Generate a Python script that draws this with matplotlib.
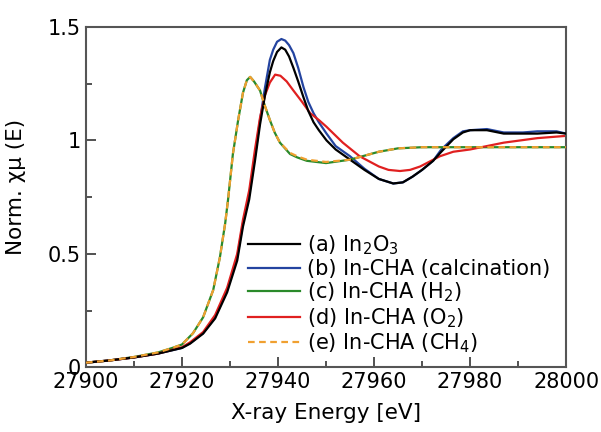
import matplotlib
matplotlib.use('Agg')
import matplotlib.pyplot as plt
from matplotlib.ticker import MultipleLocator, FormatStrFormatter

plt.rcParams['font.family'] = ['DejaVu Sans']
plt.rcParams['mathtext.fontset'] = 'dejavusans'

# energy grid (eV) and normalised absorption
e_a = [27900, 27905, 27910, 27915, 27918, 27920, 27921.7, 27924.4, 27926.9, 27929.4,
       27931.5, 27932.7, 27934, 27935.2, 27936.25, 27937.3, 27938.3, 27939, 27939.8,
       27940.7, 27941.5, 27942.3, 27943.2, 27944.2, 27945.3, 27946.3, 27947.4, 27948.5,
       27950.1, 27952, 27955, 27958, 27961, 27964, 27966, 27968, 27970, 27972.3,
       27974, 27976.5, 27978.5, 27980, 27983.5, 27987, 27991, 27994, 27998, 28000]
mu_in2o3 = [0.02, 0.03, 0.043, 0.06, 0.075, 0.085, 0.104, 0.148, 0.215, 0.33,
            0.47, 0.62, 0.74, 0.91, 1.07, 1.20, 1.30, 1.35, 1.39,
            1.41, 1.40, 1.37, 1.32, 1.26, 1.19, 1.13, 1.08, 1.045,
            1.0, 0.96, 0.915, 0.87, 0.83, 0.81, 0.815, 0.84, 0.87, 0.91,
            0.95, 1.005, 1.035, 1.045, 1.045, 1.03, 1.03, 1.03, 1.035, 1.03]
mu_calc = [0.02, 0.03, 0.043, 0.06, 0.075, 0.085, 0.106, 0.15, 0.22, 0.34,
           0.485, 0.635, 0.76, 0.93, 1.09, 1.235, 1.355, 1.40, 1.435,
           1.447, 1.44, 1.42, 1.385, 1.32, 1.235, 1.17, 1.12, 1.08,
           1.03, 0.975, 0.93, 0.875, 0.83, 0.81, 0.815, 0.84, 0.87, 0.91,
           0.96, 1.01, 1.04, 1.045, 1.05, 1.035, 1.035, 1.04, 1.04, 1.03]

e_c = [27900, 27905, 27910, 27915, 27918, 27920, 27922.3, 27924.4, 27926.5, 27927.9,
       27929, 27929.6, 27930.6, 27931.7, 27932.7, 27933.5, 27934.2, 27935, 27936.25,
       27937.3, 27938.3, 27939.3, 27940.4, 27942.5, 27944, 27946, 27950, 27955, 27961,
       27965, 27970, 27980, 27990, 28000]
mu_h2 = [0.02, 0.03, 0.045, 0.065, 0.085, 0.10, 0.15, 0.22, 0.34, 0.485,
         0.635, 0.74, 0.94, 1.09, 1.21, 1.265, 1.28, 1.26, 1.22,
         1.15, 1.09, 1.035, 0.99, 0.94, 0.925, 0.91, 0.90, 0.915, 0.95,
         0.965, 0.97, 0.97, 0.97, 0.97]
mu_ch4 = [0.02, 0.03, 0.045, 0.065, 0.085, 0.10, 0.15, 0.22, 0.34, 0.485,
          0.635, 0.74, 0.94, 1.09, 1.21, 1.265, 1.28, 1.26, 1.22,
          1.15, 1.09, 1.035, 0.99, 0.945, 0.93, 0.915, 0.905, 0.915, 0.95,
          0.965, 0.97, 0.97, 0.97, 0.97]

e_d = [27900, 27905, 27910, 27915, 27918, 27920, 27921.7, 27924.4, 27926.9, 27929.4,
       27931.5, 27932.7, 27934, 27935.2, 27936.25, 27937.3, 27938.3, 27939.4, 27940.5,
       27941.8, 27943.2, 27945, 27946.7, 27948.5, 27950.1, 27953.5, 27957, 27961, 27963,
       27965.4, 27967.5, 27969.6, 27973.7, 27976.5, 27980, 27987, 27994, 28000]
mu_o2 = [0.02, 0.03, 0.043, 0.06, 0.077, 0.088, 0.11, 0.155, 0.23, 0.35,
         0.50, 0.65, 0.78, 0.96, 1.10, 1.20, 1.255, 1.29, 1.285,
         1.26, 1.22, 1.17, 1.12, 1.09, 1.06, 0.99, 0.93, 0.885, 0.87,
         0.865, 0.87, 0.885, 0.93, 0.95, 0.96, 0.99, 1.01, 1.02]

labels = [r'(a) In$_2$O$_3$', '(b) In-CHA (calcination)', r'(c) In-CHA (H$_2$)',
          r'(d) In-CHA (O$_2$)', r'(e) In-CHA (CH$_4$)']

fig = plt.figure(figsize=(6.01, 4.32), dpi=100)
ax = fig.add_axes([0.143, 0.150, 0.799, 0.7875])

ax.plot(e_a, mu_in2o3, color='black', lw=1.6, label=labels[0], zorder=3)
ax.plot(e_a, mu_calc, color='#2444a0', lw=1.6, label=labels[1], zorder=2)
ax.plot(e_c, mu_h2, color='#2a8a2a', lw=1.6, label=labels[2], zorder=2)
ax.plot(e_d, mu_o2, color='#e02020', lw=1.6, label=labels[3], zorder=2)
ax.plot(e_c, mu_ch4, color='#f0a030', lw=1.6, ls=(0, (3, 2)), label=labels[4], zorder=4)

ax.set_xlim(27900, 28000)
ax.set_ylim(0, 1.5)
ax.xaxis.set_major_locator(MultipleLocator(20))
ax.xaxis.set_minor_locator(MultipleLocator(10))
ax.yaxis.set_major_locator(MultipleLocator(0.5))
ax.yaxis.set_minor_locator(MultipleLocator(0.25))
ax.yaxis.set_major_formatter(FormatStrFormatter('%g'))
ax.tick_params(which='both', direction='in', labelsize=15, colors='#333333',
               labelcolor='black', width=1.2)
ax.tick_params(which='major', length=7)
ax.tick_params(which='minor', length=4)
for s in ax.spines.values():
    s.set_color('#555555')
    s.set_linewidth(1.5)

ax.set_xlabel('X-ray Energy [eV]', fontsize=15.5, labelpad=8)
ax.set_ylabel('Norm. χμ (E)', fontsize=15.5)
ax.yaxis.set_label_coords(-0.125, 0.53)

ax.legend(loc='lower left', bbox_to_anchor=(0.3375, 0.035), frameon=False,
          fontsize=15, handlelength=2.5, handletextpad=0.35, labelspacing=0.09,
          borderpad=0, borderaxespad=0)

fig.savefig('out.png', dpi=100)
